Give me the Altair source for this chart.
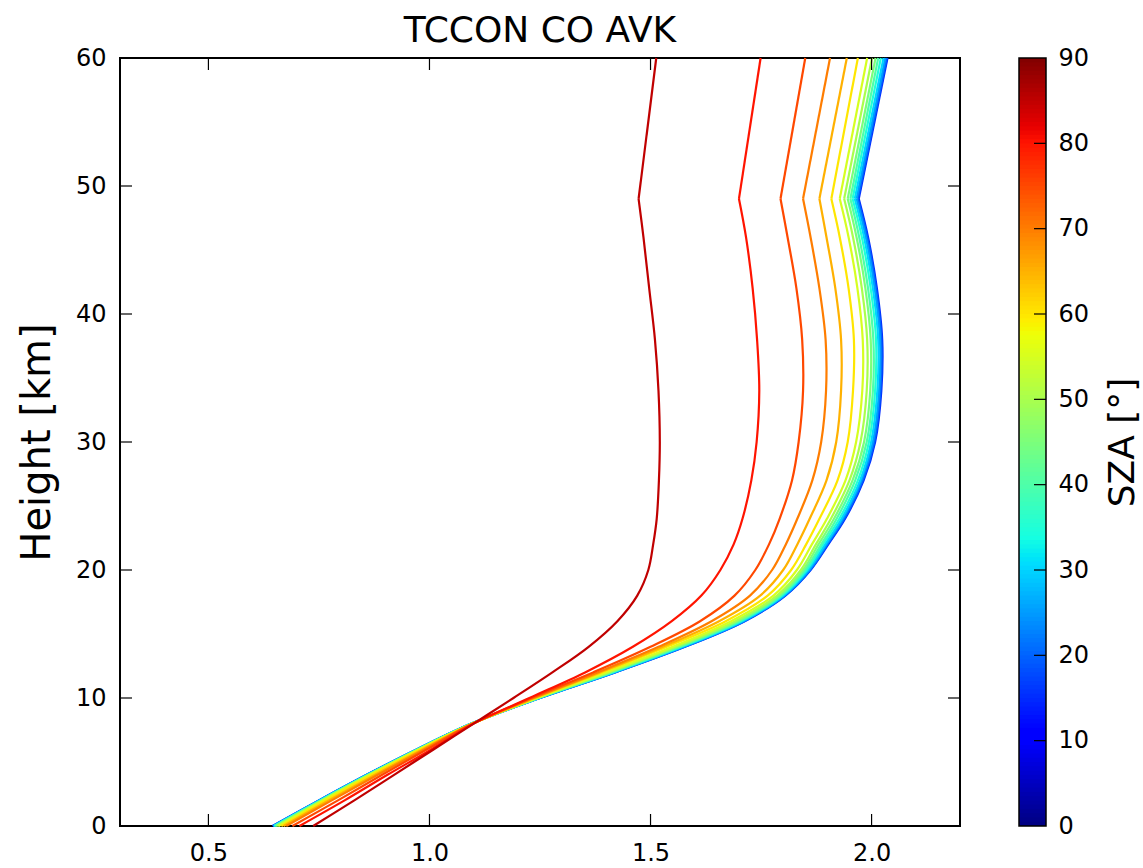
import altair as alt
import numpy as np
import pandas as pd

# Vertical grid of the averaging-kernel profiles (km)
heights = [0, 2, 4, 6, 8, 10, 12, 14, 16, 18, 20, 22, 24, 27, 30, 34, 38, 42, 46, 49, 60]

# Solar zenith angles of the plotted kernels (degrees)
sza_values = [15, 20, 25, 30, 35, 40, 45, 50, 55, 60, 65, 70, 75, 80, 85]

# Column averaging kernel values, one list per SZA, on the grid above
avk_15 = [0.645, 0.750, 0.858, 0.972, 1.095, 1.250, 1.420, 1.578, 1.713, 1.805, 1.862, 1.902, 1.940, 1.982, 2.008, 2.022, 2.024, 2.012, 1.992, 1.971, 2.036]
avk_20 = [0.646, 0.750, 0.858, 0.972, 1.095, 1.250, 1.419, 1.577, 1.712, 1.804, 1.861, 1.900, 1.938, 1.980, 2.006, 2.020, 2.022, 2.010, 1.990, 1.969, 2.034]
avk_25 = [0.647, 0.751, 0.859, 0.973, 1.095, 1.249, 1.418, 1.575, 1.710, 1.802, 1.859, 1.898, 1.935, 1.977, 2.003, 2.017, 2.019, 2.007, 1.987, 1.966, 2.031]
avk_30 = [0.648, 0.752, 0.860, 0.973, 1.095, 1.248, 1.416, 1.572, 1.707, 1.800, 1.856, 1.895, 1.932, 1.974, 1.999, 2.013, 2.015, 2.003, 1.983, 1.962, 2.027]
avk_35 = [0.649, 0.753, 0.861, 0.974, 1.096, 1.247, 1.413, 1.569, 1.704, 1.797, 1.853, 1.890, 1.927, 1.969, 1.994, 2.008, 2.010, 1.998, 1.978, 1.957, 2.021]
avk_40 = [0.651, 0.755, 0.862, 0.975, 1.096, 1.246, 1.411, 1.565, 1.700, 1.794, 1.849, 1.886, 1.921, 1.963, 1.989, 2.003, 2.004, 1.992, 1.972, 1.952, 2.015]
avk_45 = [0.653, 0.756, 0.863, 0.975, 1.096, 1.245, 1.408, 1.561, 1.696, 1.791, 1.845, 1.880, 1.915, 1.957, 1.983, 1.997, 1.998, 1.986, 1.966, 1.946, 2.009]
avk_50 = [0.656, 0.758, 0.864, 0.976, 1.097, 1.244, 1.404, 1.556, 1.691, 1.786, 1.840, 1.874, 1.908, 1.950, 1.975, 1.989, 1.990, 1.978, 1.958, 1.938, 2.001]
avk_55 = [0.659, 0.760, 0.866, 0.978, 1.097, 1.242, 1.399, 1.550, 1.682, 1.778, 1.831, 1.865, 1.899, 1.941, 1.965, 1.979, 1.980, 1.968, 1.948, 1.928, 1.990]
avk_60 = [0.665, 0.765, 0.870, 0.980, 1.098, 1.238, 1.390, 1.537, 1.670, 1.765, 1.818, 1.852, 1.882, 1.923, 1.946, 1.958, 1.960, 1.948, 1.928, 1.909, 1.969]
avk_65 = [0.670, 0.772, 0.877, 0.985, 1.098, 1.237, 1.386, 1.528, 1.655, 1.748, 1.800, 1.832, 1.860, 1.898, 1.920, 1.931, 1.931, 1.918, 1.898, 1.882, 1.944]
avk_70 = [0.676, 0.779, 0.883, 0.989, 1.098, 1.235, 1.380, 1.518, 1.638, 1.725, 1.775, 1.806, 1.832, 1.866, 1.886, 1.897, 1.896, 1.882, 1.862, 1.845, 1.906]
avk_75 = [0.690, 0.793, 0.893, 0.995, 1.098, 1.230, 1.370, 1.500, 1.612, 1.690, 1.737, 1.768, 1.792, 1.820, 1.835, 1.845, 1.843, 1.830, 1.810, 1.794, 1.850]
avk_80 = [0.706, 0.808, 0.905, 1.005, 1.100, 1.226, 1.352, 1.460, 1.548, 1.615, 1.658, 1.688, 1.708, 1.728, 1.740, 1.746, 1.741, 1.731, 1.716, 1.700, 1.749]
avk_85 = [0.737, 0.830, 0.920, 1.010, 1.100, 1.190, 1.278, 1.360, 1.425, 1.470, 1.495, 1.506, 1.514, 1.519, 1.521, 1.518, 1.510, 1.497, 1.484, 1.473, 1.513]

profiles = [avk_15, avk_20, avk_25, avk_30, avk_35, avk_40, avk_45, avk_50,
            avk_55, avk_60, avk_65, avk_70, avk_75, avk_80, avk_85]

# Height of the sharp bend in every profile (km)
KINK = 49

# Axis tick positions and labels
x_tick_values = [0.5, 1.0, 1.5, 2.0]
y_tick_values = [0, 10, 20, 30, 40, 50, 60]
y_inner_ticks = [10, 20, 30, 40, 50]
cbar_tick_values = [0, 10, 20, 30, 40, 50, 60, 70, 80, 90]
cbar_inner_ticks = [10, 20, 30, 40, 50, 60, 70, 80]
title_text = "TCCON CO AVK"

# Long table; each profile is split at the bend so the smooth curve keeps its corner
rows = []
for sza, prof in zip(sza_values, profiles):
    for h, v in zip(heights, prof):
        if h <= KINK:
            rows.append({"sza": sza, "part": f"{sza}-low", "height": h, "avk": v})
        if h >= KINK:
            rows.append({"sza": sza, "part": f"{sza}-high", "height": h, "avk": v})
df = pd.DataFrame(rows)

# "jet" colour map expressed as a piecewise-linear scale over 0-90 degrees
jet_stops = [0, 9.9, 11.25, 30.6, 31.5, 33.75, 57.6, 58.5, 59.4, 80.1, 81.9, 90]
jet_colors = ["#000080", "#0000FF", "#0000FF", "#00DBFF", "#00E6F7", "#15FFE2",
              "#EEFF08", "#F7F500", "#FFEC00", "#FF1300", "#E80000", "#800000"]
color_scale = alt.Scale(type="linear", domain=jet_stops, range=jet_colors, interpolate="rgb")

FONT = "DejaVu Sans"
W, H = 840, 768
TICK = 12

x_enc = alt.X(
    "avk:Q",
    scale=alt.Scale(domain=[0.3, 2.2], nice=False, zero=False),
    axis=alt.Axis(values=x_tick_values, format=".1f", title=None, ticks=False, tickSize=0,
                  domain=False, grid=False, labelFontSize=24, labelPadding=15,
                  labelFlush=False, labelColor="black", labelFont=FONT),
)
y_enc = alt.Y(
    "height:Q",
    scale=alt.Scale(domain=[0, 60], nice=False, zero=False),
    axis=alt.Axis(values=y_tick_values, format="d", title="Height [km]", ticks=False, tickSize=0,
                  domain=False, grid=False, labelFontSize=24, labelPadding=14,
                  labelFlush=False, labelColor="black", labelFont=FONT,
                  titleFont=FONT, titleFontSize=40, titleFontWeight="normal",
                  titleColor="black", titlePadding=18),
)

lines = alt.Chart(df).mark_line(strokeWidth=2.2, interpolate="catmull-rom").encode(
    x=x_enc,
    y=y_enc,
    color=alt.Color("sza:Q", scale=color_scale, legend=None),
    detail="part:N",
    order="height:Q",
)

xt = pd.DataFrame({"avk": x_tick_values})
yt = pd.DataFrame({"height": y_inner_ticks})
tick_style = dict(color="black", strokeWidth=1.2)
ticks_bottom = alt.Chart(xt).mark_rule(**tick_style).encode(x=x_enc, y=alt.value(H), y2=alt.value(H - TICK))
ticks_top = alt.Chart(xt).mark_rule(**tick_style).encode(x=x_enc, y=alt.value(0), y2=alt.value(TICK))
ticks_left = alt.Chart(yt).mark_rule(**tick_style).encode(y=y_enc, x=alt.value(0), x2=alt.value(TICK))
ticks_right = alt.Chart(yt).mark_rule(**tick_style).encode(y=y_enc, x=alt.value(W), x2=alt.value(W - TICK))

title = alt.Chart(pd.DataFrame({"t": [title_text]})).mark_text(
    font=FONT, fontSize=36, color="black", align="center", baseline="alphabetic"
).encode(text="t:N", x=alt.value(W / 2), y=alt.value(-16))

main = alt.layer(lines, ticks_bottom, ticks_top, ticks_left, ticks_right, title)

# Colour bar drawn to the right of the plot
CB_X0, CB_X1 = 899, 926
cb_levels = np.arange(0, 90, 0.5)
cb_df = pd.DataFrame({
    "lev": cb_levels,
    "lev_top": np.minimum(cb_levels + 0.75, 90),
    "mid": cb_levels + 0.25,
})
cb_y = alt.Y(
    "lev:Q",
    scale=alt.Scale(domain=[0, 90], nice=False, zero=False),
    axis=alt.Axis(orient="right", offset=CB_X1 - W, values=cbar_tick_values, format="d",
                  ticks=False, tickSize=0, domain=False, grid=False, labelFontSize=24,
                  labelPadding=12, labelFlush=False, labelOverlap=False,
                  labelColor="black", labelFont=FONT,
                  title="SZA [°]", titleAngle=270, titleFont=FONT, titleFontSize=36,
                  titleFontWeight="normal", titleColor="black", titlePadding=53),
)
cb_rects = alt.Chart(cb_df).mark_rect().encode(
    x=alt.value(CB_X0), x2=alt.value(CB_X1),
    y=cb_y, y2="lev_top:Q",
    color=alt.Color("mid:Q", scale=color_scale, legend=None),
)
cb_ticks = alt.Chart(pd.DataFrame({"lev": cbar_inner_ticks})).mark_rule(**tick_style).encode(
    y=cb_y, x=alt.value(CB_X1 - TICK), x2=alt.value(CB_X1),
)
cb_frame = alt.Chart(pd.DataFrame({"lev": [0]})).mark_rect(
    filled=False, stroke="black", strokeWidth=1.5
).encode(x=alt.value(CB_X0), x2=alt.value(CB_X1), y=alt.value(0), y2=alt.value(H))

colorbar = alt.layer(cb_rects, cb_ticks, cb_frame)

chart = (
    alt.layer(main, colorbar)
    .resolve_scale(y="independent")
    .properties(
        width=W,
        height=H,
        background="white",
        autosize=alt.AutoSizeParams(type="none"),
        padding={"left": 120, "top": 58, "right": 183, "bottom": 42},
    )
    .configure_view(stroke="black", strokeWidth=2)
)

chart.save("out.html", embed_options={"renderer": "svg", "actions": False})
